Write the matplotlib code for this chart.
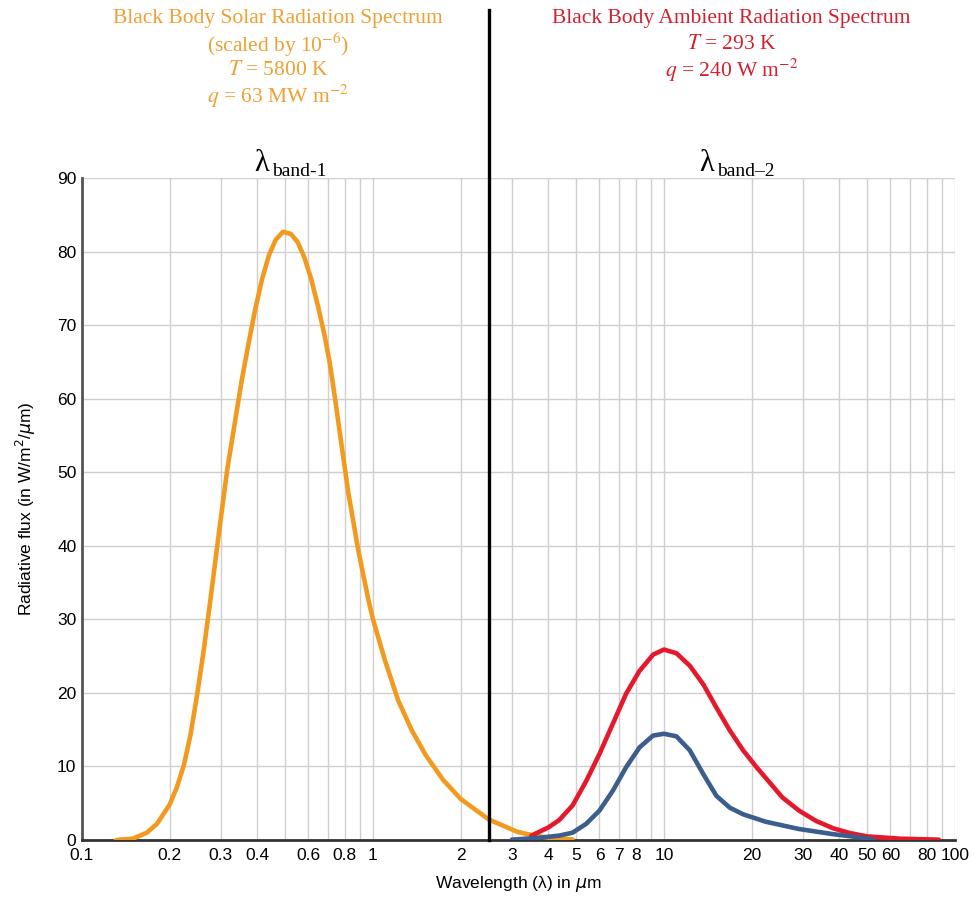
import matplotlib
matplotlib.use('Agg')
import matplotlib.pyplot as plt
import numpy as np

plt.rcParams['font.family'] = ['Liberation Sans', 'DejaVu Sans']

# ===== data =====
solar_wl = [0.131, 0.150, 0.167, 0.181, 0.200, 0.212, 0.224, 0.236, 0.249, 0.262, 0.277,
            0.296, 0.316, 0.336, 0.354, 0.374, 0.394, 0.416, 0.439, 0.463, 0.491, 0.522,
            0.551, 0.581, 0.613, 0.647, 0.682, 0.710, 0.739, 0.769, 0.822, 0.890, 0.964,
            1.00, 1.10, 1.22, 1.36, 1.52, 1.74, 2.0, 2.27, 2.5, 2.82, 3.14, 3.50, 4.0, 4.84]
solar_flux = [0.0, 0.2, 1.0, 2.2, 4.8, 7.2, 10.2, 14.3, 19.9, 25.8, 33.0,
              42.0, 50.5, 57.0, 62.5, 67.6, 72.2, 76.3, 79.5, 81.6, 82.7, 82.4,
              81.3, 79.2, 76.3, 72.6, 68.6, 64.9, 60.3, 55.4, 47.3, 39.4, 32.7,
              30.0, 24.4, 19.0, 14.9, 11.5, 8.2, 5.6, 4.0, 2.8, 1.9, 1.1, 0.7, 0.3, 0.1]

ambient_wl = [3.5, 4.0, 4.36, 4.85, 5.40, 6.0, 6.67, 7.41, 8.24, 9.17, 10.0, 11.03, 12.26,
              13.63, 15.14, 16.83, 18.7, 20.8, 22.3, 25.5, 29.1, 33.3, 38.1, 43.5, 49.8,
              65.0, 88.0]
ambient_flux = [0.6, 1.7, 2.7, 4.7, 8.0, 11.7, 15.8, 19.9, 23.0, 25.2, 25.9, 25.4, 23.7,
                21.2, 18.0, 14.9, 12.2, 9.9, 8.5, 5.8, 4.0, 2.6, 1.6, 0.95, 0.5,
                0.18, 0.05]

band_wl = [3.0, 3.71, 4.36, 4.85, 5.40, 6.0, 6.67, 7.41, 8.24, 9.17, 10.0, 11.03, 12.26,
           13.63, 15.14, 16.83, 18.7, 20.8, 22.3, 29.1, 38.1, 47.2, 52.6]
band_flux = [0.05, 0.3, 0.6, 1.0, 2.2, 4.0, 6.7, 9.9, 12.6, 14.2, 14.45, 14.1, 12.2,
             9.0, 6.0, 4.4, 3.5, 2.9, 2.5, 1.5, 0.8, 0.35, 0.05]

band_split = 2.5
x_grid = [0.2, 0.3, 0.4, 0.5, 0.6, 0.7, 0.8, 0.9, 1, 2, 3, 4, 5, 6, 7, 8, 9, 10,
          20, 30, 40, 50, 60, 70, 80, 90, 100]
x_labels = ['0.1', '0.2', '0.3', '0.4', '0.6', '0.8', '1', '2', '3', '4', '5', '6', '7', '8',
            '10', '20', '30', '40', '50', '60', '80', '100']
y_ticks = [0, 10, 20, 30, 40, 50, 60, 70, 80, 90]

ORANGE = '#F29A1F'
RED = '#E5192B'
BLUE = '#3B5E8C'
TORANGE = '#F0A030'
TRED = '#D2202F'

fig = plt.figure(figsize=(9.76, 8.97), dpi=100)
ax = fig.add_axes([0.084, 0.0635, 0.8945, 0.738])

style = dict(lw=3.3, solid_capstyle='round', solid_joinstyle='round')
ax.plot(solar_wl, solar_flux, color=ORANGE, zorder=3, **style)
ax.plot(ambient_wl, ambient_flux, color=RED, zorder=4, **style)
ax.plot(band_wl, band_flux, color=BLUE, zorder=5, **style)

ax.set_xscale('log')
ax.set_xlim(0.1, 100)
ax.set_ylim(0, 90)

# gridlines at every log position, labels only on some
ax.set_xticks(x_grid, minor=True)
ax.set_xticks([float(s) for s in x_labels])
ax.set_xticklabels(x_labels)
ax.set_yticks(y_ticks)
ax.tick_params(axis='both', which='both', length=0, labelsize=12.5, pad=4)
ax.tick_params(axis='x', pad=6)
ax.grid(which='both', axis='x', color='#cfcfcf', lw=1)
ax.grid(axis='y', color='#cfcfcf', lw=1)
ax.set_axisbelow(True)
for s in ['top', 'right']:
    ax.spines[s].set_visible(False)
ax.spines['left'].set_color('#555555'); ax.spines['left'].set_linewidth(2)
ax.spines['bottom'].set_color('#333333'); ax.spines['bottom'].set_linewidth(2)

# band divider, running up past the axes to the top of the figure
ax.axvline(band_split, ymin=0, ymax=1.254, color='black', lw=2.4, clip_on=False, zorder=6)

ax.set_ylabel(r'Radiative flux (in W/m$^2$/$\mu$m)', fontsize=12.5, labelpad=14)
ax.set_xlabel(r'Wavelength (λ) in $\mu$m', fontsize=12.5, labelpad=8)

serif = ['Liberation Serif', 'DejaVu Serif']
tkw = dict(ha='center', va='center', fontsize=15.5, family=serif, math_fontfamily='stix')
fig.text(0.285, 0.979, 'Black Body Solar Radiation Spectrum', color=TORANGE, **tkw)
fig.text(0.285, 0.950, r'(scaled by 10$^{-6}$)', color=TORANGE, **tkw)
fig.text(0.285, 0.921, r'$T$ = 5800 K', color=TORANGE, **tkw)
fig.text(0.285, 0.892, r'$q$ = 63 MW m$^{-2}$', color=TORANGE, **tkw)

fig.text(0.7495, 0.979, 'Black Body Ambient Radiation Spectrum', color=TRED, **tkw)
fig.text(0.7495, 0.950, r'$T$ = 293 K', color=TRED, **tkw)
fig.text(0.7495, 0.921, r'$q$ = 240 W m$^{-2}$', color=TRED, **tkw)

# band labels: lambda with a subscript
fig.text(0.2684, 0.8094, 'λ', ha='center', va='baseline', fontsize=22, family=serif)
fig.text(0.2787, 0.8040, 'band-1', ha='left', va='baseline', fontsize=14, family=serif)
fig.text(0.7244, 0.8094, 'λ', ha='center', va='baseline', fontsize=22, family=serif)
fig.text(0.7346, 0.8040, 'band–2', ha='left', va='baseline', fontsize=14, family=serif)

plt.savefig('out.png', dpi=100)
